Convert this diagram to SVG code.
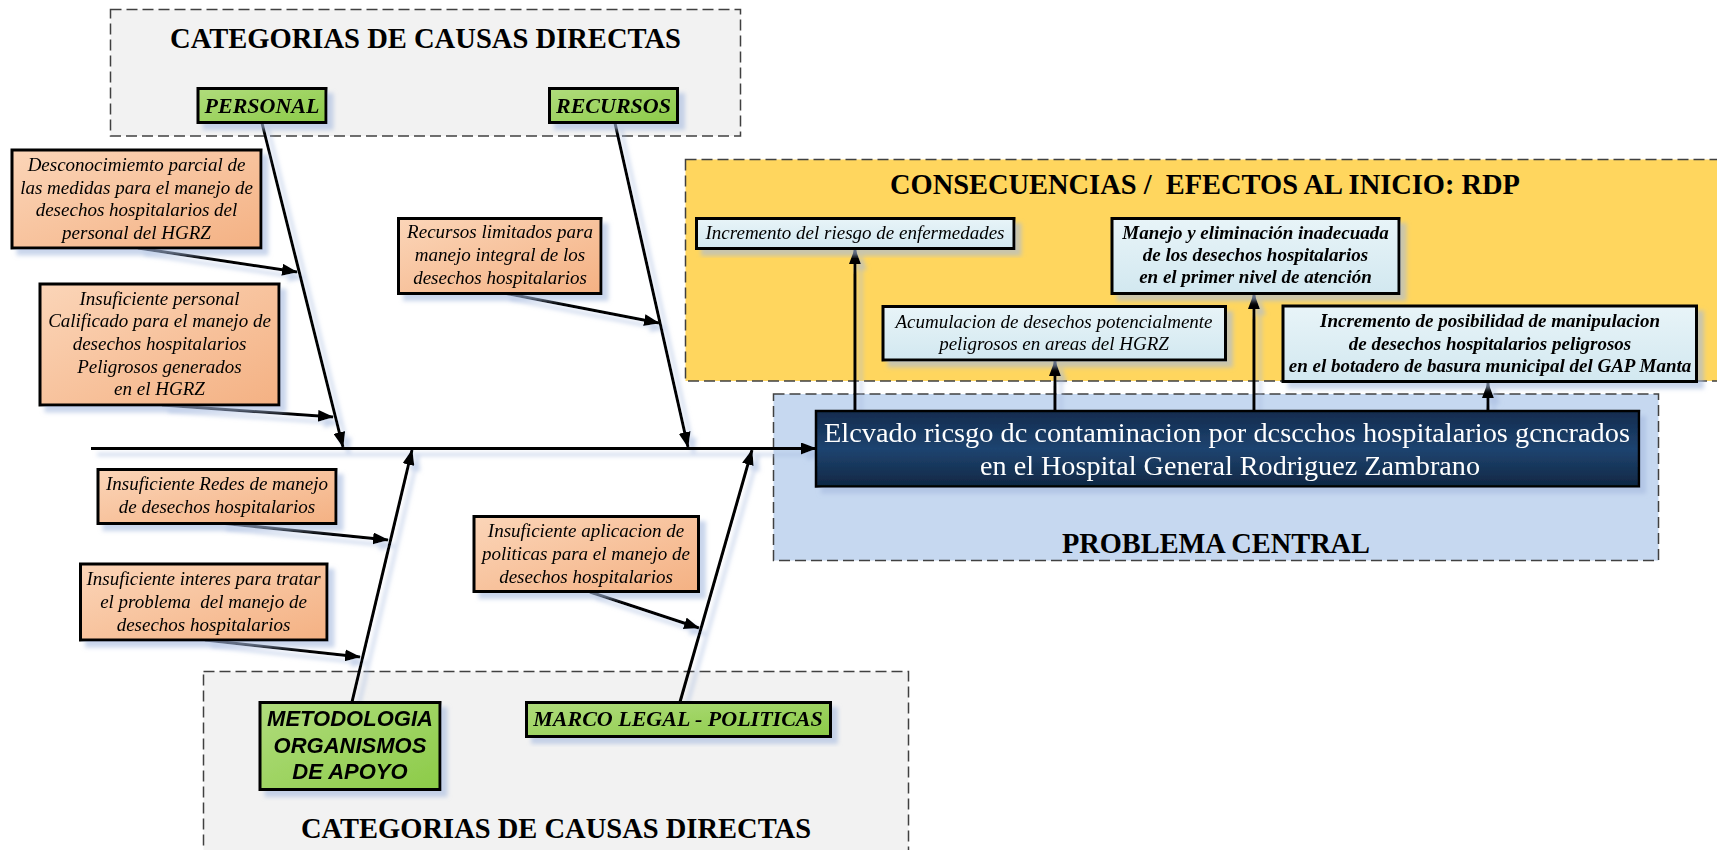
<svg xmlns="http://www.w3.org/2000/svg" width="1717" height="850" viewBox="0 0 1717 850">
<style>
.panel{stroke:#404040;stroke-width:1.5;stroke-dasharray:11 5}
.box{stroke:#000;stroke-width:3}
.org{fill:url(#gOrg)}
.grn{fill:url(#gGrn)}
.lb{fill:url(#gLb)}
.ttl{font-family:"Liberation Serif",serif;font-weight:bold;font-size:30px;text-anchor:middle;fill:#000;white-space:pre}
.ct{font-family:"Liberation Serif",serif;font-style:italic;font-size:19px;text-anchor:middle;fill:#000;white-space:pre}
.cb{font-family:"Liberation Serif",serif;font-style:italic;font-weight:bold;font-size:19px;text-anchor:middle;fill:#000}
.cat{font-family:"Liberation Serif",serif;font-style:italic;font-weight:bold;font-size:22px;text-anchor:middle;fill:#000}
.cats{font-family:"Liberation Sans",sans-serif;font-style:italic;font-weight:bold;font-size:22px;text-anchor:middle;fill:#000}
.cen{font-family:"Liberation Serif",serif;font-size:27px;text-anchor:middle;fill:#fff}
.ln{stroke:#000;stroke-width:3;fill:none;marker-end:url(#ah)}
</style>
<defs>
<linearGradient id="gOrg" x1="0" y1="0" x2="1" y2="1"><stop offset="0" stop-color="#FBD5B8"/><stop offset="1" stop-color="#F4B183"/></linearGradient>
<linearGradient id="gGrn" x1="0" y1="0" x2="1" y2="1"><stop offset="0" stop-color="#B0DC7C"/><stop offset="1" stop-color="#8CCB48"/></linearGradient>
<linearGradient id="gLb" x1="0" y1="0" x2="0" y2="1"><stop offset="0" stop-color="#E8F4F8"/><stop offset="1" stop-color="#D2E8F0"/></linearGradient>
<linearGradient id="gNavy" x1="0" y1="0" x2="0" y2="1"><stop offset="0" stop-color="#112B4E"/><stop offset="0.5" stop-color="#1F4470"/><stop offset="1" stop-color="#0F2744"/></linearGradient>
<filter id="sh" x="-10%" y="-10%" width="130%" height="140%"><feDropShadow dx="6" dy="6" stdDeviation="2" flood-color="#A6BADF" flood-opacity="0.6"/></filter>
<marker id="ah" markerUnits="userSpaceOnUse" markerWidth="16" markerHeight="12" refX="15" refY="6" orient="auto"><path d="M0,0 L16,6 L0,12 z" fill="#000"/></marker>
</defs>

<g id="panel-causas-top"><rect class="panel" x="110.5" y="9.5" width="630" height="126.5" fill="#F2F2F2"/><text class="ttl" x="425.5" y="48" textLength="511" lengthAdjust="spacingAndGlyphs">CATEGORIAS DE CAUSAS DIRECTAS</text></g>
<g id="panel-causas-bottom"><rect class="panel" x="203.5" y="671.5" width="705" height="190" fill="#F2F2F2"/><text class="ttl" x="556" y="837.5" textLength="510" lengthAdjust="spacingAndGlyphs">CATEGORIAS DE CAUSAS DIRECTAS</text></g>
<g id="panel-consecuencias"><rect class="panel" x="685.5" y="159.5" width="1040" height="221.5" fill="#FFD65E"/><text class="ttl" x="1205" y="194" textLength="630" lengthAdjust="spacingAndGlyphs" xml:space="preserve">CONSECUENCIAS /  EFECTOS AL INICIO: RDP</text></g>
<g id="panel-problema"><rect class="panel" x="773.5" y="394" width="885" height="166.5" fill="#C6D8F0"/><text class="ttl" x="1216" y="553" textLength="308" lengthAdjust="spacingAndGlyphs">PROBLEMA CENTRAL</text></g>

<g id="connectors" filter="url(#sh)">
<line class="ln" x1="91" y1="448.5" x2="816" y2="448.5"/>
<line class="ln" x1="262" y1="123" x2="343" y2="447"/>
<line class="ln" x1="615" y1="123" x2="688" y2="447"/>
<line class="ln" x1="352" y1="702" x2="412" y2="450"/>
<line class="ln" x1="680" y1="702" x2="752" y2="450"/>
<line class="ln" x1="138" y1="248" x2="297" y2="272"/>
<line class="ln" x1="162" y1="405" x2="333" y2="417"/>
<line class="ln" x1="504" y1="293" x2="659" y2="323"/>
<line class="ln" x1="220" y1="523" x2="388" y2="540"/>
<line class="ln" x1="205" y1="640" x2="360" y2="657"/>
<line class="ln" x1="590" y1="592" x2="699" y2="628"/>
<line class="ln" x1="855" y1="411" x2="855" y2="249"/>
<line class="ln" x1="1055" y1="411" x2="1055" y2="361"/>
<line class="ln" x1="1254" y1="411" x2="1254" y2="294"/>
<line class="ln" x1="1488" y1="411" x2="1488" y2="383"/>
</g>

<g id="cat-personal" filter="url(#sh)"><rect class="box grn" x="198" y="88.5" width="128" height="34"/><text class="cat" x="262" y="112.5">PERSONAL</text></g>
<g id="cat-recursos" filter="url(#sh)"><rect class="box grn" x="549.5" y="88.5" width="128" height="34"/><text class="cat" x="613.5" y="112.5">RECURSOS</text></g>
<g id="cat-metodologia" filter="url(#sh)"><rect class="box grn" x="260" y="702.5" width="180" height="87"/><text class="cats" x="350" y="725.5">METODOLOGIA</text><text class="cats" x="350" y="752.5">ORGANISMOS</text><text class="cats" x="350" y="779">DE APOYO</text></g>
<g id="cat-marco" filter="url(#sh)"><rect class="box grn" x="526.5" y="702.5" width="304" height="34"/><text class="cat" x="678" y="726">MARCO LEGAL - POLITICAS</text></g>

<g id="causa-desconocimiento" filter="url(#sh)"><rect class="box org" x="12" y="150" width="249" height="98"/><text class="ct" x="136.5" y="170.5">Desconocimiemto parcial de</text><text class="ct" x="136.5" y="193.5">las medidas para el manejo de</text><text class="ct" x="136.5" y="216">desechos hospitalarios del</text><text class="ct" x="136.5" y="238.5">personal del HGRZ</text></g>
<g id="causa-personal" filter="url(#sh)"><rect class="box org" x="40" y="284" width="239" height="121"/><text class="ct" x="159.5" y="304.5">Insuficiente personal</text><text class="ct" x="159.5" y="327">Calificado para el manejo de</text><text class="ct" x="159.5" y="349.5">desechos hospitalarios</text><text class="ct" x="159.5" y="372.5">Peligrosos generados</text><text class="ct" x="159.5" y="395">en el HGRZ</text></g>
<g id="causa-recursos" filter="url(#sh)"><rect class="box org" x="398.5" y="218.5" width="202.5" height="75"/><text class="ct" x="500" y="238">Recursos limitados para</text><text class="ct" x="500" y="261">manejo integral de los</text><text class="ct" x="500" y="283.5">desechos hospitalarios</text></g>
<g id="causa-redes" filter="url(#sh)"><rect class="box org" x="98" y="469.5" width="238" height="54"/><text class="ct" x="217" y="490">Insuficiente Redes de manejo</text><text class="ct" x="217" y="512.5">de desechos hospitalarios</text></g>
<g id="causa-interes" filter="url(#sh)"><rect class="box org" x="80.5" y="564" width="246.5" height="76"/><text class="ct" x="203.5" y="585">Insuficiente interes para tratar</text><text class="ct" x="203.5" y="607.5" xml:space="preserve">el problema  del manejo de</text><text class="ct" x="203.5" y="630.5">desechos hospitalarios</text></g>
<g id="causa-politicas" filter="url(#sh)"><rect class="box org" x="474" y="516.5" width="224.5" height="75"/><text class="ct" x="586" y="537">Insuficiente aplicacion de</text><text class="ct" x="586" y="560">politicas para el manejo de</text><text class="ct" x="586" y="582.5">desechos hospitalarios</text></g>

<g id="efecto-enfermedades" filter="url(#sh)"><rect class="box lb" x="696.5" y="218.5" width="317.5" height="30"/><text class="ct" x="855" y="238.5">Incremento del riesgo de enfermedades</text></g>
<g id="efecto-manejo" filter="url(#sh)"><rect class="box lb" x="1112" y="218.5" width="287" height="75"/><text class="cb" x="1255.5" y="238.5">Manejo y eliminación inadecuada</text><text class="cb" x="1255.5" y="261">de los desechos hospitalarios</text><text class="cb" x="1255.5" y="283">en el primer nivel de atención</text></g>
<g id="efecto-acumulacion" filter="url(#sh)"><rect class="box lb" x="883" y="306.5" width="342.5" height="53.5"/><text class="ct" x="1054" y="328">Acumulacion de desechos potencialmente</text><text class="ct" x="1054" y="350">peligrosos en areas del HGRZ</text></g>
<g id="efecto-botadero" filter="url(#sh)"><rect class="box lb" x="1283" y="306" width="413.5" height="75.5"/><text class="cb" x="1490" y="327">Incremento de posibilidad de manipulacion</text><text class="cb" x="1490" y="349.5">de desechos hospitalarios peligrosos</text><text class="cb" x="1490" y="372">en el botadero de basura municipal del GAP Manta</text></g>

<g id="problema-central" filter="url(#sh)"><rect x="816" y="411" width="823" height="75.5" fill="url(#gNavy)" stroke="#000" stroke-width="2.5"/><text class="cen" x="1227" y="441.5" textLength="806" lengthAdjust="spacingAndGlyphs">Elcvado ricsgo dc contaminacion por dcscchos hospitalarios gcncrados</text><text class="cen" x="1230" y="474.5" textLength="500" lengthAdjust="spacingAndGlyphs">en el Hospital General Rodriguez Zambrano</text></g>
</svg>
